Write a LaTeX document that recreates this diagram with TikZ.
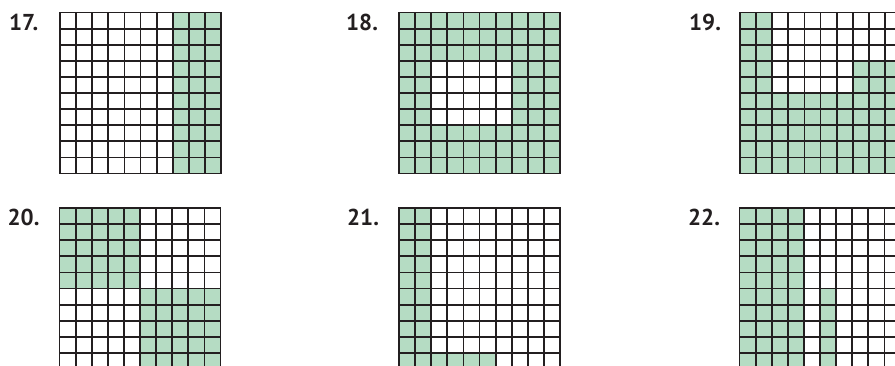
\documentclass[tikz,border=0pt]{standalone}
\usepackage{fontspec}
\setsansfont{PT Sans}
\usetikzlibrary{positioning}
\definecolor{cellgreen}{RGB}{181,220,195}
\definecolor{inkgray}{RGB}{35,31,32}
\newcommand{\hundredgrid}{%
  \foreach \k in {0,...,10} {
    \draw[gridline] (\k,0) -- (\k,10);
    \draw[gridline] (0,\k) -- (10,\k);
  }}

\begin{document}
\begin{tikzpicture}[x=1pt,y=-1pt,
  numlabel/.style={anchor=base west,inner sep=0pt,text=inkgray,
    font=\sffamily\bfseries\fontsize{23}{24}\selectfont},
  gridline/.style={draw=inkgray,line width=1.8pt,line cap=rect},
  cell/.style={fill=cellgreen}]
  \useasboundingbox (0,0) rectangle (895,365);
  \clip (0,0) rectangle (895,365);

  % exercise numbers
  \node[numlabel] (n17) at (9,30.5) {17.};
  \node[numlabel] (n18) at (346,30.5) {18.};
  \node[numlabel] (n19) at (689,30.5) {19.};
  \node[numlabel] (n20) at (7.5,225.5) {20.};
  \node[numlabel] (n21) at (347,225.5) {21.};
  \node[numlabel] (n22) at (688,225.5) {22.};

  % top row
  \begin{scope}[shift={(60,12.5)},x=16.1pt,y=-16.1pt]
    \fill[cell] (7,0) rectangle (10,10);
    \hundredgrid
  \end{scope}
  \begin{scope}[shift={(399,12.5)},x=16.1pt,y=-16.1pt]
    \fill[cell,even odd rule] (0,0) rectangle (10,10) (2,3) rectangle (7,7);
    \hundredgrid
  \end{scope}
  \begin{scope}[shift={(740,12.5)},x=16.1pt,y=-16.1pt]
    \fill[cell] (0,0) rectangle (2,5) (7,3) rectangle (10,5) (0,5) rectangle (10,10);
    \hundredgrid
  \end{scope}

  % bottom row
  \begin{scope}[shift={(59.5,208)},x=16.1pt,y=-16.1pt]
    \fill[cell] (0,0) rectangle (5,5) (5,5) rectangle (10,10);
    \hundredgrid
  \end{scope}
  \begin{scope}[shift={(399,208)},x=16.1pt,y=-16.1pt]
    \fill[cell] (0,0) rectangle (2,9) (0,9) rectangle (6,10);
    \hundredgrid
  \end{scope}
  \begin{scope}[shift={(739.5,208)},x=16.1pt,y=-16.1pt]
    \fill[cell] (0,0) rectangle (4,10) (5,5) rectangle (6,10);
    \hundredgrid
  \end{scope}
\end{tikzpicture}
\end{document}
